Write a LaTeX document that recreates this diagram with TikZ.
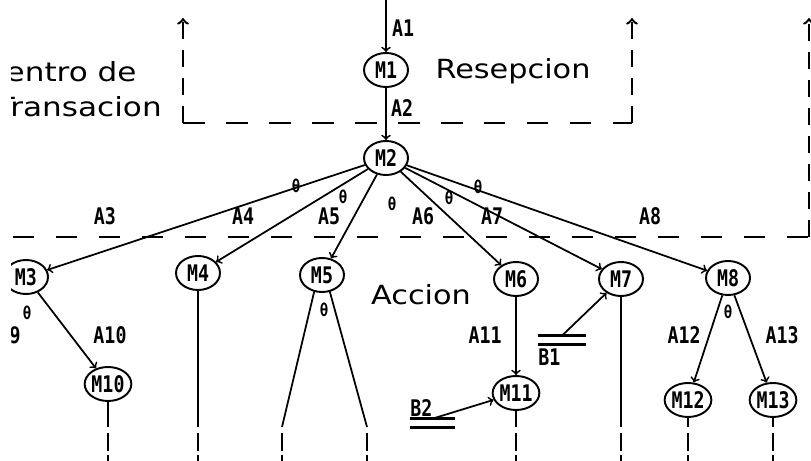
\documentclass[tikz,border=0pt]{standalone}
\usepackage{fontspec}
\setmainfont{DejaVu Sans}
\newfontfamily\lblfont[FakeStretch=0.8]{DejaVu Sans Mono}
\newfontfamily\bigfont[FakeStretch=1.15]{DejaVu Sans}
\newfontfamily\widefont[FakeStretch=1.18]{DejaVu Sans}
\usepackage{tikz}
\usetikzlibrary{positioning, shapes.geometric}
\tikzstyle{proc} = [ellipse, draw=black, line width=1.1pt, minimum width=0.88cm, minimum height=0.68cm, inner sep=0pt, font=\lblfont\bfseries\fontsize{13}{13}\selectfont]
\tikzstyle{store} = [rectangle, minimum width=0.96cm, minimum height=0.16cm, inner sep=0pt]
\tikzstyle{storeline} = [line width=1.6pt]
\tikzstyle{arrow} = [line width=1pt,->,>=to]
\tikzstyle{link} = [line width=1pt]
\tikzstyle{tail} = [line width=1pt, dash pattern=on 0.36cm off 0.08cm]
\tikzstyle{bound} = [line width=1.4pt, dash pattern=on 0.43cm off 0.43cm, >=to]
\tikzstyle{vbound} = [bound, dash pattern=on 0.34cm off 0.22cm]
\tikzstyle{lbl} = [font=\lblfont\bfseries\fontsize{13}{13}\selectfont, inner sep=0pt]
\tikzstyle{zero} = [font=\lblfont\bfseries\fontsize{10}{10}\selectfont, inner sep=0pt]
\tikzstyle{area} = [font=\bigfont\fontsize{15}{15}\selectfont, inner sep=0pt]

\begin{document}
\begin{tikzpicture}[node distance=1.76cm]
		\useasboundingbox (0,0) rectangle (16.22,-9.22);
		\clip (0.22,0) rectangle (16.22,-9.22);
		% procesos
		\node (M1) [proc] at (7.72,-1.40) {M1};
		\node (M2) [proc, below of=M1] {M2};
		\node (M3) [proc, below of=M2, xshift=-7.20cm, yshift=-0.62cm] {M3};
		\node (M4) [proc, below of=M2, xshift=-3.76cm, yshift=-0.54cm] {M4};
		\node (M5) [proc, below of=M2, xshift=-1.28cm, yshift=-0.58cm] {M5};
		\node (M6) [proc, below of=M2, xshift=2.60cm, yshift=-0.66cm] {M6};
		\node (M7) [proc, below of=M2, xshift=4.70cm, yshift=-0.66cm] {M7};
		\node (M8) [proc, below of=M2, xshift=6.84cm, yshift=-0.64cm] {M8};
		\node (M10) [proc, below of=M3, xshift=1.64cm, yshift=-0.38cm] {M10};
		\node (M11) [proc, below of=M6, yshift=-0.52cm] {M11};
		\node (M12) [proc, below of=M8, xshift=-0.80cm, yshift=-0.68cm] {M12};
		\node (M13) [proc, below of=M8, xshift=0.90cm, yshift=-0.68cm] {M13};
		% almacenes
		\node (B1) [store] at (11.24,-6.80) {};
		\node (B2) [store, minimum width=0.90cm] at (8.65,-8.46) {};
		\draw [storeline] (B1.north west) -- (B1.north east);
		\draw [storeline] (B1.south west) -- (B1.south east);
		\draw [storeline] (B2.north west) -- (B2.north east);
		\draw [storeline] (B2.south west) -- (B2.south east);
		\node (lB1) [lbl, anchor=west] at (10.76,-7.14) {B1};
		\node (lB2) [lbl, anchor=west] at (8.20,-8.16) {B2};
		% zonas
		\node (centro) [area, font=\widefont\fontsize{15}{15}\selectfont, anchor=east] at (2.74,-1.44) {Centro de};
		\node (trans) [area, font=\widefont\fontsize{15}{15}\selectfont, anchor=east] at (3.24,-2.14) {Transacion};
		\node (resep) [area] at (10.26,-1.42) {Resepcion};
		\node (accion) [area] at (8.42,-5.90) {Accion};
		\coordinate (b1) at (3.66,-0.36);
		\coordinate (b2) at (3.66,-2.46);
		\coordinate (b3) at (12.64,-2.46);
		\coordinate (b4) at (12.64,-0.36);
		\coordinate (b5) at (0.26,-4.74);
		\coordinate (b6) at (16.18,-4.74);
		\coordinate (b7) at (16.18,-0.36);
		\draw [vbound, ->] (b2) -- (b1);
		\draw [bound] (b2) -- (b3);
		\draw [vbound, ->] (b3) -- (b4);
		\draw [bound] (b5) -- (b6);
		\draw [vbound, ->] (b6) -- (b7);
		% flujos
		\coordinate (top) at (0,0);
		\draw [arrow] (M1 |- top) -- (M1);
		\draw [arrow] (M1) -- (M2);
		\draw [arrow] (M2) -- (M3);
		\draw [arrow] (M2) -- (M4);
		\draw [arrow] (M2) -- (M5);
		\draw [arrow] (M2) -- (M6);
		\draw [arrow] (M2) -- (M7);
		\draw [arrow] (M2) -- (M8);
		\draw [arrow] (M3) -- (M10);
		\draw [arrow] (M6) -- (M11);
		\draw [arrow] (M8) -- (M12);
		\draw [arrow] (M8) -- (M13);
		\draw [arrow] (B1.north) -- (M7);
		\draw [arrow] (B2.north) -- (M11);
		% etiquetas
		\node (lA1) [lbl] at (8.06,-0.56) {A1};
		\node (lA2) [lbl] at (8.04,-2.16) {A2};
		\node (lA3) [lbl] at (2.10,-4.32) {A3};
		\node (lA4) [lbl] at (4.86,-4.32) {A4};
		\node (lA5) [lbl] at (6.58,-4.32) {A5};
		\node (lA6) [lbl] at (8.46,-4.32) {A6};
		\node (lA7) [lbl] at (9.84,-4.32) {A7};
		\node (lA8) [lbl] at (13.00,-4.32) {A8};
		\node (lA9) [lbl, anchor=east] at (0.42,-6.70) {A9};
		\node (lA10) [lbl] at (2.20,-6.70) {A10};
		\node (lA11) [lbl] at (9.70,-6.70) {A11};
		\node (lA12) [lbl] at (13.68,-6.70) {A12};
		\node (lA13) [lbl] at (15.64,-6.70) {A13};
		\node (z1) [zero] at (5.92,-3.72) {θ};
		\node (z2) [zero] at (6.86,-3.94) {θ};
		\node (z3) [zero] at (7.84,-4.08) {θ};
		\node (z4) [zero] at (8.98,-3.96) {θ};
		\node (z5) [zero] at (9.56,-3.74) {θ};
		\node (z6) [zero] at (0.54,-6.26) {θ};
		\node (z7) [zero] at (6.48,-6.20) {θ};
		\node (z8) [zero] at (14.56,-6.24) {θ};
		% salidas hacia abajo
		\coordinate (cut) at (0,-8.54);
		\coordinate (gap) at (0,-8.66);
		\coordinate (edge) at (0,-9.30);
		\coordinate (l5) at (5.64,-8.54);
		\coordinate (r5) at (7.34,-8.54);
		\draw [link] (M4) -- (M4 |- cut);
		\draw [link] (M5.245) -- (l5);
		\draw [link] (M5.295) -- (r5);
		\draw [link] (M10) -- (M10 |- cut);
		\draw [link] (M11) -- (M11 |- cut);
		\draw [link] (M7) -- (M7 |- cut);
		\draw [link] (M12) -- (M12 |- cut);
		\draw [link] (M13) -- (M13 |- cut);
		\foreach \n in {M4,M10,M11,M7,M12,M13,l5,r5}
			\draw [tail] (\n |- gap) -- (\n |- edge);
		
\end{tikzpicture}
\end{document}
